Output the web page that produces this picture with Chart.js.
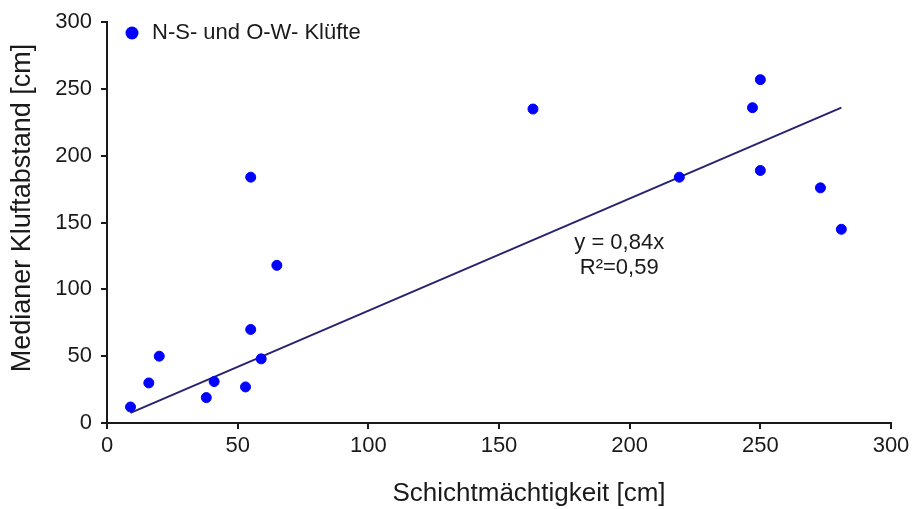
<!DOCTYPE html>
<html>
<head>
<meta charset="utf-8">
<script src="https://cdn.jsdelivr.net/npm/chart.js@4"></script>
<style>
  html, body { margin: 0; padding: 0; background: #fff; }
  #wrap { width: 914px; height: 509px; }
</style>
</head>
<body>
<div id="wrap"><canvas id="scatterChart" width="914" height="509"></canvas></div>
<script>
// Schichtmächtigkeit [cm] / Medianer Kluftabstand [cm]
var xVals = [9, 16, 20, 38, 41, 53, 55, 55, 59, 65, 163, 219, 247, 250, 250, 273, 281];
var yVals = [12, 30, 50, 19, 31, 27, 70, 184, 48, 118, 235, 184, 236, 257, 189, 176, 145];
var trendX = [9, 281];
var slope = 0.84;
var xTicks = [0, 50, 100, 150, 200, 250, 300];
var yTicks = [0, 50, 100, 150, 200, 250, 300];

var points = xVals.map(function (x, i) { return { x: x, y: yVals[i] }; });
var trend = trendX.map(function (x) { return { x: x, y: slope * x }; });

var FONT = '"Liberation Sans", Arial, sans-serif';
var axisColor = '#1a1a1a';
var textColor = '#1a1a1a';

// legend, regression label and axis titles
var overlay = {
    id: 'overlay',
    afterDraw(chart) {
        const ctx = chart.ctx;
        const xs = chart.scales.x, ys = chart.scales.y;
        ctx.save();
        ctx.fillStyle = '#0000ff';
        ctx.beginPath();
        ctx.arc(132, 33, 6.5, 0, Math.PI * 2);
        ctx.fill();

        ctx.fillStyle = textColor;
        ctx.font = '22px ' + FONT;
        ctx.textBaseline = 'middle';
        ctx.textAlign = 'left';
        ctx.fillText('N-S- und O-W- Klüfte', 152, 33);

        ctx.textAlign = 'center';
        ctx.fillText('y = 0,84x', xs.getPixelForValue(196), ys.getPixelForValue(135));
        ctx.fillText('R²=0,59', xs.getPixelForValue(196), ys.getPixelForValue(116));

        ctx.font = '26px ' + FONT;
        ctx.fillText('Schichtmächtigkeit [cm]', 529, 494);

        ctx.translate(23, 208);
        ctx.rotate(-Math.PI / 2);
        ctx.font = '27px ' + FONT;
        ctx.fillText('Medianer Kluftabstand [cm]', 0, 0);
        ctx.restore();
    }
};

new Chart(document.getElementById('scatterChart').getContext('2d'), {
    type: 'scatter',
    data: {
        datasets: [
            {
                label: 'N-S- und O-W- Klüfte',
                data: points,
                backgroundColor: '#0000ff',
                borderColor: '#0000ff',
                pointRadius: 5,
                pointHoverRadius: 5
            },
            {
                label: 'Trend',
                type: 'line',
                data: trend,
                borderColor: '#27236e',
                borderWidth: 2,
                pointRadius: 0,
                fill: false
            }
        ]
    },
    options: {
        responsive: false,
        animation: false,
        layout: { padding: { top: 19, right: 23, left: 0, bottom: 0 } },
        plugins: {
            legend: { display: false },
            tooltip: { enabled: false }
        },
        scales: {
            x: {
                type: 'linear',
                min: 0,
                max: 300,
                afterBuildTicks: function (s) { s.ticks = xTicks.map(function (v) { return { value: v }; }); },
                afterFit: function (s) { s.height = 86; },
                border: { color: axisColor, width: 2 },
                grid: { display: true, drawOnChartArea: false, drawTicks: true, tickLength: 6, color: axisColor, lineWidth: 2 },
                ticks: { color: textColor, font: { family: FONT, size: 22 }, padding: 4, maxRotation: 0 }
            },
            y: {
                type: 'linear',
                min: 0,
                max: 300,
                afterBuildTicks: function (s) { s.ticks = yTicks.map(function (v) { return { value: v }; }); },
                afterFit: function (s) { s.width = 107; },
                border: { color: axisColor, width: 2 },
                grid: { display: true, drawOnChartArea: false, drawTicks: true, tickLength: 6, color: axisColor, lineWidth: 2 },
                ticks: { color: textColor, font: { family: FONT, size: 22 }, padding: 9 }
            }
        }
    },
    plugins: [overlay]
});
</script>
</body>
</html>
